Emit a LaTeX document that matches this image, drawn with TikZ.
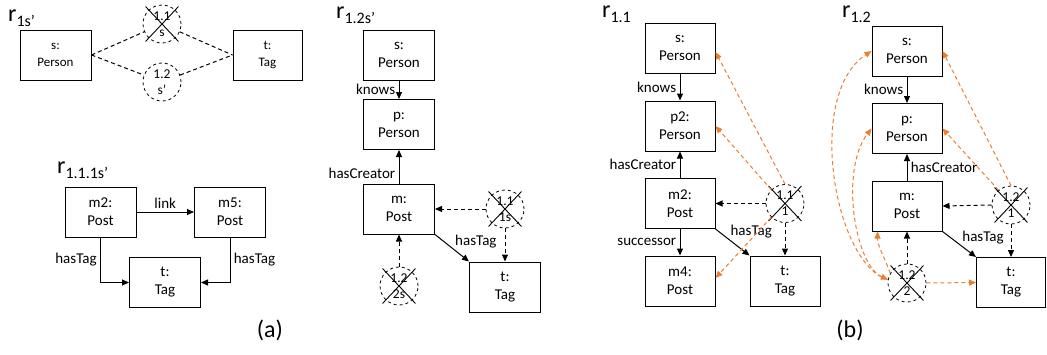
\documentclass[tikz,border=0pt]{standalone}
\usepackage{fontspec}
\setmainfont{Carlito}
\usetikzlibrary{arrows.meta,shapes.misc}
\definecolor{orng}{HTML}{ED7D31}
\newcommand{\rname}[1]{{\fontsize{24}{24}\selectfont r}{\fontsize{16}{16}\selectfont\raisebox{-5pt}{#1}}}

\begin{document}
\begin{tikzpicture}[x=1pt,y=-1pt,
	box/.style={draw, line width=1pt, minimum width=71pt, minimum height=50pt, inner sep=0pt, align=center, font=\fontsize{15}{18}\selectfont},
	ring/.style={circle, draw, dashed, line width=0.8pt, minimum size=38pt, inner sep=0pt, align=center, font=\fontsize{13.5}{16}\selectfont},
	xmark/.style={cross out, draw, line width=0.9pt, minimum width=32pt, minimum height=34pt, inner sep=0pt},
	title/.style={anchor=base west, inner sep=0pt},
	lbl/.style={font=\fontsize{15}{18}\selectfont},
	arr/.style={-{Triangle[length=7pt,width=6pt]}, line width=1pt},
	darr/.style={arr, dash pattern=on 4pt off 3pt},
	oarr/.style={darr, color=orng}]
	\useasboundingbox (0,0) rectangle (1047,354);

	% r_1s'
	\node[title] (lab1) at (8,21) {\rname{1s’}};
	\node[box, font=\fontsize{13}{17}\selectfont] (s1) at (55.5,55) {s:\\Person};
	\node[box, font=\fontsize{13}{17}\selectfont, minimum width=69pt] (t1) at (267.5,55) {t:\\Tag};
	\node[ring] (c11) at (162,24) {1.1\\s};
	\node[xmark] (x11) at (162,24) {};
	\node[ring] (c12) at (162,82) {1.2\\s’};
	\draw[line width=1pt, dash pattern=on 4pt off 3pt] (s1.east) -- (c11) -- (t1.west);
	\draw[line width=1pt, dash pattern=on 4pt off 3pt] (s1.east) -- (c12) -- (t1.west);

	% r_1.1.1s'
	\node[title] (lab2) at (57,173) {\rname{1.1.1s’}};
	\node[box] (m2a) at (100.5,212) {m2:\\Post};
	\node[box] (m5a) at (230,212) {m5:\\Post};
	\node[box] (ta) at (165,282.5) {t:\\Tag};
	\draw[arr] (m2a) -- node[lbl, above] {link} (m5a);
	\draw[arr] (m2a.south) |- node[lbl, pos=0.25, left] {hasTag} (ta.west);
	\draw[arr] (m5a.south) |- node[lbl, pos=0.25, right] {hasTag} (ta.east);

	\node[font=\fontsize{24}{24}\selectfont] (capa) at (270,330) {(a)};

	% r_1.2s'
	\node[title] (lab3) at (336,18) {\rname{1.2s’}};
	\node[box] (sb) at (399,55) {s:\\Person};
	\node[box] (pb) at (399,124.5) {p:\\Person};
	\node[box] (mb) at (399,209) {m:\\Post};
	\node[box] (tb) at (505,287) {t:\\Tag};
	\node[ring] (cb1) at (505,209) {1.1\\1s};
	\node[xmark] (xb1) at (505,209) {};
	\node[ring] (cb2) at (399,286) {1.2\\2s};
	\node[xmark] (xb2) at (399,286) {};
	\draw[arr] (sb) -- node[lbl, left] {knows} (pb);
	\draw[arr] (mb) -- node[lbl, pos=0.3, left] {hasCreator} (pb);
	\draw[arr] (mb.south east) -- node[lbl, pos=0.55, above right, inner sep=1pt] {hasTag} (tb.north west);
	\draw[darr] (cb1.west) -- (mb.east);
	\draw[darr] (cb1.south) -- (tb.north);
	\draw[darr] (cb2.north) -- (mb.south);

	% r_1.1
	\node[title] (lab4) at (602,17) {\rname{1.1}};
	\node[box, minimum width=70pt] (sc) at (680,48) {s:\\Person};
	\node[box, minimum width=70pt] (pc) at (680,126) {p2:\\Person};
	\node[box, minimum width=70pt] (mc) at (680,203.5) {m2:\\Post};
	\node[box, minimum width=70pt] (m4c) at (680,281) {m4:\\Post};
	\node[box, minimum width=70pt] (tc) at (785,281) {t:\\Tag};
	\node[ring] (cc) at (785,203.5) {1.1\\1};
	\node[xmark] (xc) at (785,203.5) {};
	\draw[arr] (sc) -- node[lbl, left] {knows} (pc);
	\draw[arr] (mc) -- node[lbl, left] {hasCreator} (pc);
	\draw[arr] (mc) -- node[lbl, left] {successor} (m4c);
	\draw[arr] (mc.south east) -- node[lbl, pos=0.4, above right, inner sep=1pt] {hasTag} (tc.north west);
	\draw[darr] (cc.west) -- (mc.east);
	\draw[darr] (cc.south) -- (tc.north);
	\draw[oarr] (cc.north) -- ([yshift=-4pt]sc.east);
	\draw[oarr] (cc.135) -- (pc.east);
	\draw[oarr] (cc.225) -- ([yshift=3pt]m4c.east);

	% r_1.2
	\node[title] (lab5) at (842,17) {\rname{1.2}};
	\node[box, minimum width=70pt] (sd) at (907,51) {s:\\Person};
	\node[box, minimum width=70pt] (pd) at (907,128.5) {p:\\Person};
	\node[box, minimum width=70pt] (md) at (907,206) {m:\\Post};
	\node[box, minimum width=69pt] (td) at (1011,282.5) {t:\\Tag};
	\node[ring] (cd1) at (1011,205) {1.2\\1};
	\node[xmark] (xd1) at (1011,205) {};
	\node[ring] (cd2) at (907,283) {1.2\\2};
	\node[xmark] (xd2) at (907,283) {};
	\draw[arr] (sd) -- node[lbl, left] {knows} (pd);
	\draw[arr] (md) -- node[lbl, right] {hasCreator} (pd);
	\draw[arr] (md.south east) -- node[lbl, pos=0.55, above right, inner sep=1pt] {hasTag} (td.north west);
	\draw[darr] (cd1.west) -- (md.east);
	\draw[darr] (cd1.south) -- (td.north);
	\draw[darr] (cd2.north) -- (md.south);
	\draw[oarr] (cd1.north) -- (sd.east);
	\draw[oarr] (cd1.130) -- (pd.east);
	\draw[oarr] (cd2.east) -- (td.west);
	\draw[oarr] (cd2.170) .. controls +(-53,-15) and +(-67,44) .. (sd.west);
	\draw[oarr, {Triangle[length=7pt,width=6pt]}-{Triangle[length=7pt,width=6pt]}] (cd2.170) .. controls +(-33,-15) and +(-32,42) .. (pd.west);
	\draw[oarr] (cd2.150) .. controls +(-5,-15) and +(0,15) .. ([xshift=6pt]md.south west);

	\node[font=\fontsize{24}{24}\selectfont] (capb) at (850,330) {(b)};
\end{tikzpicture}
\end{document}
